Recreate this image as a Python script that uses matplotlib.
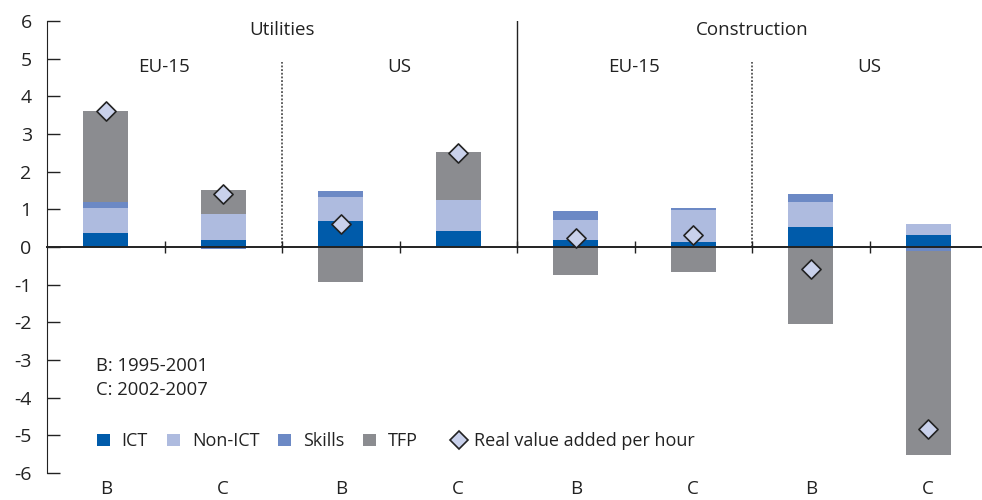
import numpy as np
import matplotlib
matplotlib.use("Agg")
import matplotlib.pyplot as plt
from matplotlib.patches import Patch
from matplotlib.lines import Line2D

plt.rcParams['font.family'] = ['Open Sans', 'DejaVu Sans']
plt.rcParams['axes.unicode_minus'] = False

# Data (percentage point contributions)
periods = ['B', 'C', 'B', 'C', 'B', 'C', 'B', 'C']
regions = ['EU-15', 'US', 'EU-15', 'US']
sectors = ['Utilities', 'Construction']
ict = [0.37, 0.18, 0.68, 0.42, 0.18, 0.12, 0.52, 0.31]
non_ict = [0.66, 0.69, 0.64, 0.83, 0.53, 0.86, 0.67, 0.29]
skills = [0.16, -0.05, 0.16, 0.01, 0.25, 0.05, 0.23, -0.11]
tfp = [2.41, 0.63, -0.93, 1.26, -0.75, -0.66, -2.04, -5.41]
real_va = [3.60, 1.41, 0.60, 2.50, 0.25, 0.33, -0.58, -4.84]

series = [('ICT', ict, '#005BAA'),
          ('Non-ICT', non_ict, '#AEBBDF'),
          ('Skills', skills, '#6C89C5'),
          ('TFP', tfp, '#8B8C90')]
text_color = '#222222'

fig = plt.figure(figsize=(9.82, 5.0), dpi=100)
ax = fig.add_axes([47 / 982, 27 / 500, 940 / 982, 452 / 500])

x = np.arange(len(periods))
pos_base = np.zeros(len(x))
neg_base = np.zeros(len(x))

# stacked bars, positives go up from zero and negatives go down
for name, vals, color in series:
    vals = np.array(vals)
    bottom = np.where(vals >= 0, pos_base, neg_base)
    ax.bar(x, vals, width=0.38, bottom=bottom, color=color, linewidth=0, zorder=2)
    pos_base = pos_base + np.clip(vals, 0, None)
    neg_base = neg_base + np.clip(vals, None, 0)

ax.scatter(x, real_va, marker='D', s=95, facecolor='#C9D1EB', edgecolor=text_color,
           linewidth=1.2, zorder=4)

# axes styling
ax.set_xlim(-0.5, 7.5)
ax.set_ylim(-6, 6)
ax.set_yticks(range(-6, 7))
ax.set_yticklabels([str(v) for v in range(-6, 7)])
ax.tick_params(axis='y', direction='in', length=9, width=1, labelsize=14, pad=11,
               colors=text_color)
ax.spines['top'].set_visible(False)
ax.spines['right'].set_visible(False)
ax.spines['left'].set_color(text_color)
ax.spines['bottom'].set_position(('data', 0))
ax.spines['bottom'].set_color(text_color)
ax.spines['bottom'].set_linewidth(1.4)
ax.spines['bottom'].set_zorder(3)

ax.set_xticks([])
ax.set_xticks(np.arange(0.5, 7, 1), minor=True)
ax.tick_params(axis='x', which='minor', direction='inout', length=8, width=1,
               colors=text_color, labelbottom=False)

# period labels under the plot
for xi, p in zip(x, periods):
    ax.text(xi, -0.035, p, transform=ax.get_xaxis_transform(), ha='center',
            va='center', fontsize=13.5, color=text_color)

# separators between sectors and regions
ax.plot([3.5, 3.5], [0, 6], color=text_color, lw=1, zorder=1)
for xs in [1.5, 5.5]:
    ax.plot([xs, xs], [0, 4.9], color='#333333', lw=1.1, ls=(0, (1.2, 1.2)), zorder=1)

for i, s in enumerate(sectors):
    ax.text(1.5 + 4 * i, 5.75, s, ha='center', va='center', fontsize=13.5, color=text_color)
for i, r in enumerate(regions):
    ax.text(0.5 + 2 * i, 4.78, r, ha='center', va='center', fontsize=13.5, color=text_color)

ax.text(-0.085, -3.15, 'B: 1995-2001', ha='left', va='center', fontsize=13.3, color=text_color)
ax.text(-0.085, -3.80, 'C: 2002-2007', ha='left', va='center', fontsize=13.3, color=text_color)

# legend: coloured squares, then the diamond a bit further right
patches = [Patch(facecolor=c, edgecolor='none', label=n) for n, _, c in series]
leg1 = ax.legend(handles=patches, ncol=4, loc='center left', bbox_to_anchor=(0.053, 0.07),
                 frameon=False, fontsize=13, handlelength=0.72, handleheight=0.72,
                 handletextpad=0.66, columnspacing=1.05, borderaxespad=0, borderpad=0,
                 labelcolor=text_color)
ax.add_artist(leg1)
diamond = Line2D([], [], marker='D', ls='none', markersize=9, markerfacecolor='#C9D1EB',
                 markeredgecolor=text_color, markeredgewidth=1.2,
                 label='Real value added per hour')
ax.legend(handles=[diamond], loc='center left', bbox_to_anchor=(0.431, 0.07),
          frameon=False, fontsize=13, handlelength=0.72, handletextpad=0.5,
          borderaxespad=0, borderpad=0, labelcolor=text_color)

fig.savefig('out.png', dpi=100)
